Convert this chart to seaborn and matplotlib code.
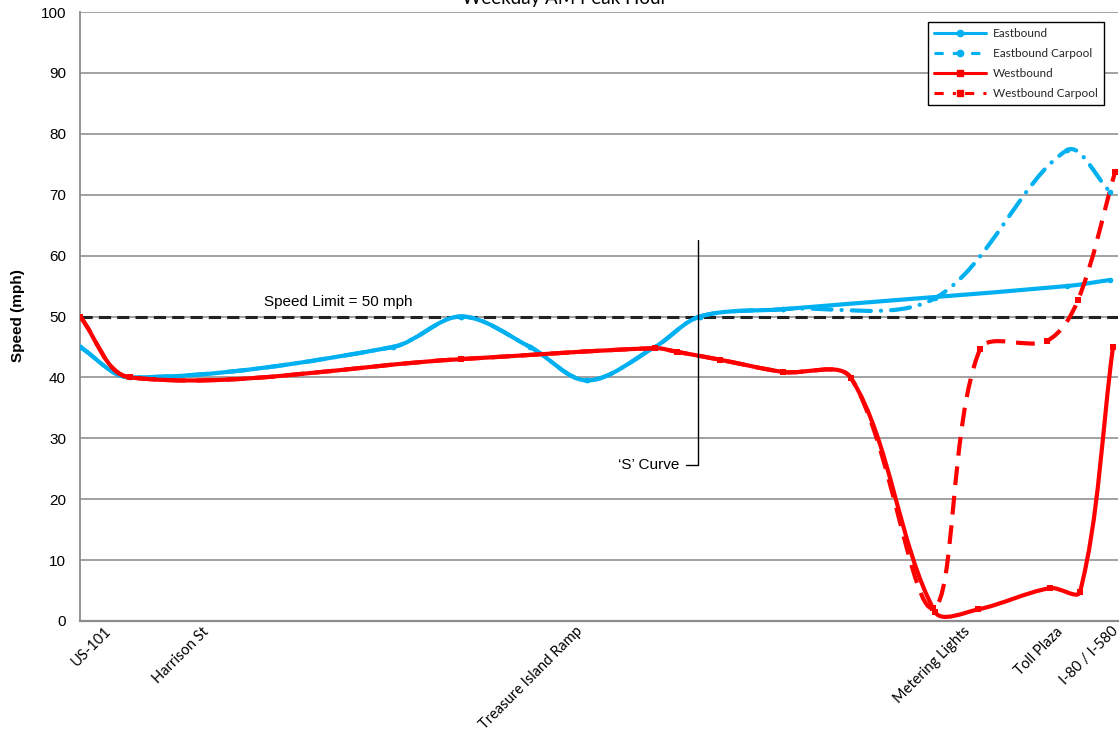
import numpy as np
import pandas as pd
import matplotlib
matplotlib.use("Agg")
import matplotlib.pyplot as plt
import seaborn as sns
from matplotlib.path import Path
from matplotlib.patches import PathPatch
from matplotlib.lines import Line2D

# ---------------- data (distance from US-101 in miles, speed in mph) ----------------
eb_mile = [0.00, 0.25, 1.565, 1.905, 2.25, 2.535, 2.875, 3.10, 3.515, 4.935, 5.15]
eb_speed = [45, 40, 45, 50, 45, 39.5, 45, 50, 51.2, 55, 56]

ebc_mile = [0.00, 0.25, 1.565, 1.905, 2.25, 2.535, 2.875, 3.10, 3.515, 4.275, 4.935, 5.15]
ebc_speed = [45, 40, 45, 50, 45, 39.5, 45, 50, 51.2, 53, 77.3, 70.5]

wb_mile = [0.00, 0.25, 1.905, 2.875, 2.985, 3.20, 3.515, 3.855, 4.275, 4.49, 4.85, 5.00, 5.165]
wb_speed = [50, 40, 43, 44.8, 44.2, 42.9, 40.9, 39.9, 1.5, 1.9, 5.4, 4.8, 45]

wbc_mile = [0.00, 0.25, 1.905, 2.875, 2.985, 3.20, 3.515, 3.855, 4.265, 4.50, 4.835, 4.99, 5.175]
wbc_speed = [50, 40, 43, 44.8, 44.2, 42.9, 40.9, 39.9, 2.1, 44.6, 46, 52.7, 73.7]

location_labels = ["US-101", "Harrison St", "Treasure Island Ramp",
                   "Metering Lights", "Toll Plaza", "I-80 / I-580"]
location_miles = [0.145, 0.635, 2.50, 4.44, 4.905, 5.18]

speed_limit = 50
y_ticks = list(range(0, 101, 10))
title = "Weekday AM Peak Hour"

BLUE = "#00B0F0"
RED = "#FF0000"

# ---------------- figure ----------------
sns.set_theme(style="white")
plt.rcParams["font.family"] = ["Liberation Sans", "DejaVu Sans"]

W, H = 1120, 734
fig = plt.figure(figsize=(W / 100, H / 100), dpi=100)
ax = fig.add_axes([80 / W, 1 - 621 / H, (1118 - 80) / W, (621 - 12) / H])
ax.set_xlim(0, 5.19)
ax.set_ylim(0, 100)

ax.set_yticks(y_ticks)
ax.yaxis.grid(True, color="#9a9a9a", lw=1.3)
ax.xaxis.grid(False)
ax.set_axisbelow(True)
for s in ["top", "right"]:
    ax.spines[s].set_visible(False)
ax.spines["left"].set_color("#8c8c8c")
ax.spines["left"].set_linewidth(1.3)
ax.spines["bottom"].set_color("#8c8c8c")
ax.spines["bottom"].set_linewidth(1.6)
ax.tick_params(axis="y", length=0, pad=10, labelsize=11, labelcolor="black")
ax.tick_params(axis="x", length=0, pad=6)
for t in ax.get_yticklabels():
    t.set_fontfamily(["Liberation Sans", "DejaVu Sans"])

ax.set_xticks(location_miles)
ax.set_xticklabels(location_labels, rotation=45, ha="right", va="center",
                   rotation_mode="anchor", fontsize=10.5,
                   family=["Lato", "DejaVu Sans"], color="black")

# speed limit reference line
ax.axhline(speed_limit, color="#222222", lw=2.2, dashes=(4, 2), zorder=2)
ax.text(1.29, speed_limit + 2.4, "Speed Limit = %d mph" % speed_limit,
        ha="center", va="center", fontsize=11, color="black")


def smooth_patch(xs, ys, **kw):
    """Excel-style smoothed line: cubic Bezier through the data points."""
    P = ax.transData.transform(np.column_stack([xs, ys]))
    n = len(P)
    cout = np.zeros_like(P)
    cin = np.zeros_like(P)
    for i in range(n):
        prev = P[i - 1] if i > 0 else P[i]
        nxt = P[i + 1] if i < n - 1 else P[i]
        T = nxt - prev
        dp = np.hypot(*(P[i] - prev))
        dn = np.hypot(*(nxt - P[i]))
        tot = dp + dn
        cout[i] = P[i] + T * dn / tot / 3.0
        cin[i] = P[i] - T * dp / tot / 3.0
    verts = [P[0]]
    codes = [Path.MOVETO]
    for i in range(n - 1):
        verts += [cout[i], cin[i + 1], P[i + 1]]
        codes += [Path.CURVE4] * 3
    verts = ax.transData.inverted().transform(np.array(verts))
    patch = PathPatch(Path(verts, codes), fill=False, transform=ax.transData, **kw)
    ax.add_patch(patch)
    return patch


LW = 3.0
smooth_patch(eb_mile, eb_speed, edgecolor=BLUE, lw=LW, zorder=3, capstyle="round")
smooth_patch(ebc_mile, ebc_speed, edgecolor=BLUE, lw=LW, zorder=3,
             linestyle=(0, (4.6, 2.4, 0.05, 2.4)), capstyle="round")
smooth_patch(wb_mile, wb_speed, edgecolor=RED, lw=LW, zorder=4, capstyle="round")
smooth_patch(wbc_mile, wbc_speed, edgecolor=RED, lw=LW, zorder=4,
             linestyle=(0, (4.5, 2.6)), capstyle="butt")

# markers
df_eb = pd.DataFrame({"mile": eb_mile, "speed": eb_speed})
df_ebc = pd.DataFrame({"mile": ebc_mile, "speed": ebc_speed})
df_wb = pd.DataFrame({"mile": wb_mile, "speed": wb_speed})
df_wbc = pd.DataFrame({"mile": wbc_mile, "speed": wbc_speed})
sns.scatterplot(data=df_eb, x="mile", y="speed", ax=ax, color=BLUE, marker="o",
                s=16, linewidth=0, zorder=5, legend=False)
sns.scatterplot(data=df_ebc, x="mile", y="speed", ax=ax, color=BLUE, marker="o",
                s=16, linewidth=0, zorder=5, legend=False)
sns.scatterplot(data=df_wb, x="mile", y="speed", ax=ax, color=RED, marker="s",
                s=20, linewidth=0, zorder=6, legend=False)
sns.scatterplot(data=df_wbc, x="mile", y="speed", ax=ax, color=RED, marker="s",
                s=20, linewidth=0, zorder=6, legend=False)
ax.set_xlabel("")
ax.set_ylabel("")

# 'S' Curve annotation
ax.plot([3.09, 3.09, 3.03], [62.6, 25.6, 25.6], color="black", lw=1.0, zorder=7)
ax.text(2.995, 25.6, "\u2018S\u2019 Curve", ha="right", va="center", fontsize=11,
        color="black")

# legend
handles = [
    Line2D([], [], color=BLUE, lw=2.2, marker="o", ms=4.5),
    Line2D([], [], color=BLUE, lw=2.2, marker="o", ms=4.5, dashes=(3, 3)),
    Line2D([], [], color=RED, lw=2.2, marker="s", ms=4.5),
    Line2D([], [], color=RED, lw=2.2, marker="s", ms=4.5, dashes=(3, 3, 1, 3)),
]
labels = ["Eastbound", "Eastbound Carpool", "Westbound", "Westbound Carpool"]
leg = ax.legend(handles, labels, loc="upper left",
                bbox_to_anchor=(928 / W, 1 - 22 / H), bbox_transform=fig.transFigure,
                frameon=True, fancybox=False, edgecolor="black", framealpha=1,
                prop={"family": ["Lato", "DejaVu Sans"], "size": 8.5},
                handlelength=4.4, handletextpad=0.55, labelspacing=0.74,
                borderpad=0.55, borderaxespad=0)
leg.get_frame().set_linewidth(1.0)

# axis label and (clipped) title
fig.text(18 / W, 1 - 316 / H, "Speed (mph)", rotation=90, ha="center", va="center",
         fontsize=11, fontweight="bold", color="black")
fig.text(565 / W, 1 - 4 / H, title, ha="center", va="baseline", fontsize=13.5,
         family=["Lato", "DejaVu Sans"], color="black")

fig.savefig("out.png", dpi=100)
